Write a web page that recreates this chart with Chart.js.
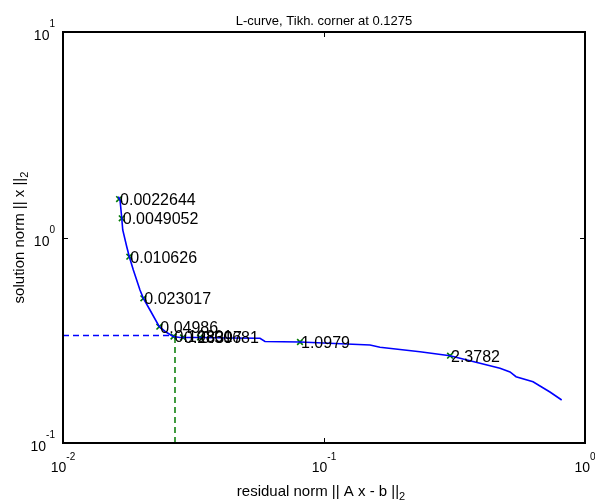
<!DOCTYPE html>
<html>
<head>
<meta charset="utf-8">
<script src="https://cdn.jsdelivr.net/npm/chart.js@4.4.1/dist/chart.umd.min.js"></script>
<style>
    html, body { margin: 0; padding: 0; background: #fff; }
    #wrap { width: 595px; height: 503px; }
</style>
</head>
<body>
<div id="wrap"><canvas id="lcurve"></canvas></div>
<script>
// L-curve data (residual norm vs solution norm)
const curveResidual = [0.01629, 0.01654, 0.01679, 0.01694, 0.01755, 0.01795, 0.01860, 0.01972, 0.02032, 0.02154,
    0.02339, 0.02481, 0.02639, 0.02808, 0.03349, 0.04363, 0.05685, 0.05941, 0.08091, 0.1222,
    0.1501, 0.1639, 0.2332, 0.3040, 0.3961, 0.4724, 0.5160, 0.5441, 0.6323, 0.6724, 0.7340, 0.8141];
const curveSolution = [1.579, 1.522, 1.244, 1.088, 0.902, 0.8065, 0.6947, 0.5553, 0.5059, 0.4438,
    0.3681, 0.3468, 0.3298, 0.3262, 0.3262, 0.3243, 0.3233, 0.3118, 0.3101, 0.3032,
    0.2998, 0.2922, 0.2781, 0.2660, 0.2443, 0.2310, 0.2216, 0.2102, 0.1987, 0.1894, 0.1771, 0.1619];

// marked regularization parameters
const markerLabels = ['0.0022644', '0.0049052', '0.010626', '0.023017', '0.04986',
    '0.10801', '0.23397', '0.50681', '1.0979', '2.3782'];
const markerResidual = [0.01640, 0.01679, 0.01795, 0.02032, 0.02339, 0.02651, 0.02883, 0.03349, 0.08091, 0.3040];
const markerSolution = [1.539, 1.240, 0.8065, 0.5059, 0.3681, 0.3298, 0.3262, 0.3262, 0.3101, 0.2660];

// corner
const cornerResidual = 0.02686;
const cornerSolution = 0.3335;

// axes
const xTicks = [0.01, 0.1, 1];
const xTickExp = ['-2', '-1', '0'];
const yTicks = [0.1, 1, 10];
const yTickExp = ['-1', '0', '1'];

const titleText = 'L-curve, Tikh. corner at 0.1275';
const xTitle = 'residual norm || A x - b ||';
const yTitle = 'solution norm || x ||';

const FONT = '"Liberation Sans", Arial, sans-serif';

function toPoints(xs, ys) {
    return xs.map((x, i) => ({ x: x, y: ys[i] }));
}

// draw "10" with a raised exponent; anchor is 'center' or 'right'
function drawPower(ctx, exp, x, baseY, expY, anchor) {
    ctx.font = '14px ' + FONT;
    const wBase = ctx.measureText('10').width;
    ctx.font = '10px ' + FONT;
    const wExp = ctx.measureText(exp).width;
    const total = wBase + wExp;
    const left = anchor === 'center' ? x - total / 2 : x - total;
    ctx.textAlign = 'left';
    ctx.textBaseline = 'alphabetic';
    ctx.font = '14px ' + FONT;
    ctx.fillText('10', left, baseY);
    ctx.font = '10px ' + FONT;
    ctx.fillText(exp, left + wBase, expY);
}

const frameAndLabels = {
    id: 'frameAndLabels',
    afterDatasetsDraw(chart) {
        const ctx = chart.ctx;
        const a = chart.chartArea;
        const xs = chart.scales.x;
        const ys = chart.scales.y;
        ctx.save();
        ctx.fillStyle = '#000';

        // labels next to the markers
        ctx.font = '16px ' + FONT;
        ctx.textAlign = 'left';
        ctx.textBaseline = 'middle';
        chart.getDatasetMeta(1).data.forEach((pt, i) => {
            ctx.fillText(markerLabels[i], pt.x + 1, pt.y + 1.5);
        });

        // box
        ctx.strokeStyle = '#000';
        ctx.lineWidth = 2;
        ctx.strokeRect(a.left, a.top, a.right - a.left, a.bottom - a.top);

        // inward ticks
        ctx.lineWidth = 1;
        ctx.beginPath();
        xTicks.forEach(v => {
            const px = Math.round(xs.getPixelForValue(v)) + 0.5;
            ctx.moveTo(px, a.bottom); ctx.lineTo(px, a.bottom - 5);
            ctx.moveTo(px, a.top); ctx.lineTo(px, a.top + 5);
        });
        yTicks.forEach(v => {
            const py = Math.round(ys.getPixelForValue(v)) + 0.5;
            ctx.moveTo(a.left, py); ctx.lineTo(a.left + 5, py);
            ctx.moveTo(a.right, py); ctx.lineTo(a.right - 5, py);
        });
        ctx.stroke();

        // tick labels
        xTicks.forEach((v, i) => {
            const px = xs.getPixelForValue(v);
            drawPower(ctx, xTickExp[i], px, a.bottom + 29, a.bottom + 16.5, 'center');
        });
        yTicks.forEach((v, i) => {
            const py = ys.getPixelForValue(v);
            drawPower(ctx, yTickExp[i], a.left - 8, py + 8, py - 5, 'right');
        });

        // title
        const cx = (a.left + a.right) / 2;
        ctx.font = '13px ' + FONT;
        ctx.textAlign = 'center';
        ctx.textBaseline = 'alphabetic';
        ctx.fillText(titleText, cx, 25);

        // x axis title with subscript
        ctx.font = '15px ' + FONT;
        const wx = ctx.measureText(xTitle).width;
        ctx.font = '11px ' + FONT;
        const wsub = ctx.measureText('2').width;
        let left = cx - 3 - (wx + wsub) / 2;
        ctx.textAlign = 'left';
        ctx.font = '15px ' + FONT;
        ctx.fillText(xTitle, left, a.bottom + 53);
        ctx.font = '11px ' + FONT;
        ctx.fillText('2', left + wx, a.bottom + 57);

        // y axis title, rotated
        const cy = (a.top + a.bottom) / 2;
        ctx.translate(24, cy);
        ctx.rotate(-Math.PI / 2);
        ctx.font = '15px ' + FONT;
        const wy = ctx.measureText(yTitle).width;
        left = -(wy + wsub) / 2;
        ctx.fillText(yTitle, left, 0);
        ctx.font = '11px ' + FONT;
        ctx.fillText('2', left + wy, 4);

        ctx.restore();
    }
};

new Chart(document.getElementById('lcurve'), {
    type: 'scatter',
    data: {
        datasets: [{
            label: 'L-curve',
            data: toPoints(curveResidual, curveSolution),
            showLine: true,
            borderColor: '#0000ff',
            borderWidth: 1.6,
            pointRadius: 0,
            tension: 0
        }, {
            label: 'parameters',
            data: toPoints(markerResidual, markerSolution),
            showLine: false,
            pointStyle: 'crossRot',
            pointRadius: 4,
            borderColor: '#007a00',
            borderWidth: 1.6
        }, {
            label: 'corner h',
            data: [{ x: xTicks[0], y: cornerSolution }, { x: cornerResidual, y: cornerSolution }],
            showLine: true,
            borderColor: '#0000ff',
            borderWidth: 1.5,
            borderDash: [6, 4],
            pointRadius: 0
        }, {
            label: 'corner v',
            data: [{ x: cornerResidual, y: yTicks[0] }, { x: cornerResidual, y: cornerSolution }],
            showLine: true,
            borderColor: '#007a00',
            borderWidth: 1.5,
            borderDash: [6, 4],
            pointRadius: 0
        }]
    },
    options: {
        responsive: true,
        maintainAspectRatio: false,
        animation: false,
        layout: {
            padding: { left: 63, top: 32, right: 10, bottom: 60 }
        },
        plugins: {
            legend: { display: false },
            title: { display: false },
            tooltip: { enabled: false }
        },
        scales: {
            x: {
                type: 'logarithmic',
                min: 0.01,
                max: 1,
                display: false
            },
            y: {
                type: 'logarithmic',
                min: 0.1,
                max: 10,
                display: false
            }
        }
    },
    plugins: [frameAndLabels]
});
</script>
</body>
</html>
